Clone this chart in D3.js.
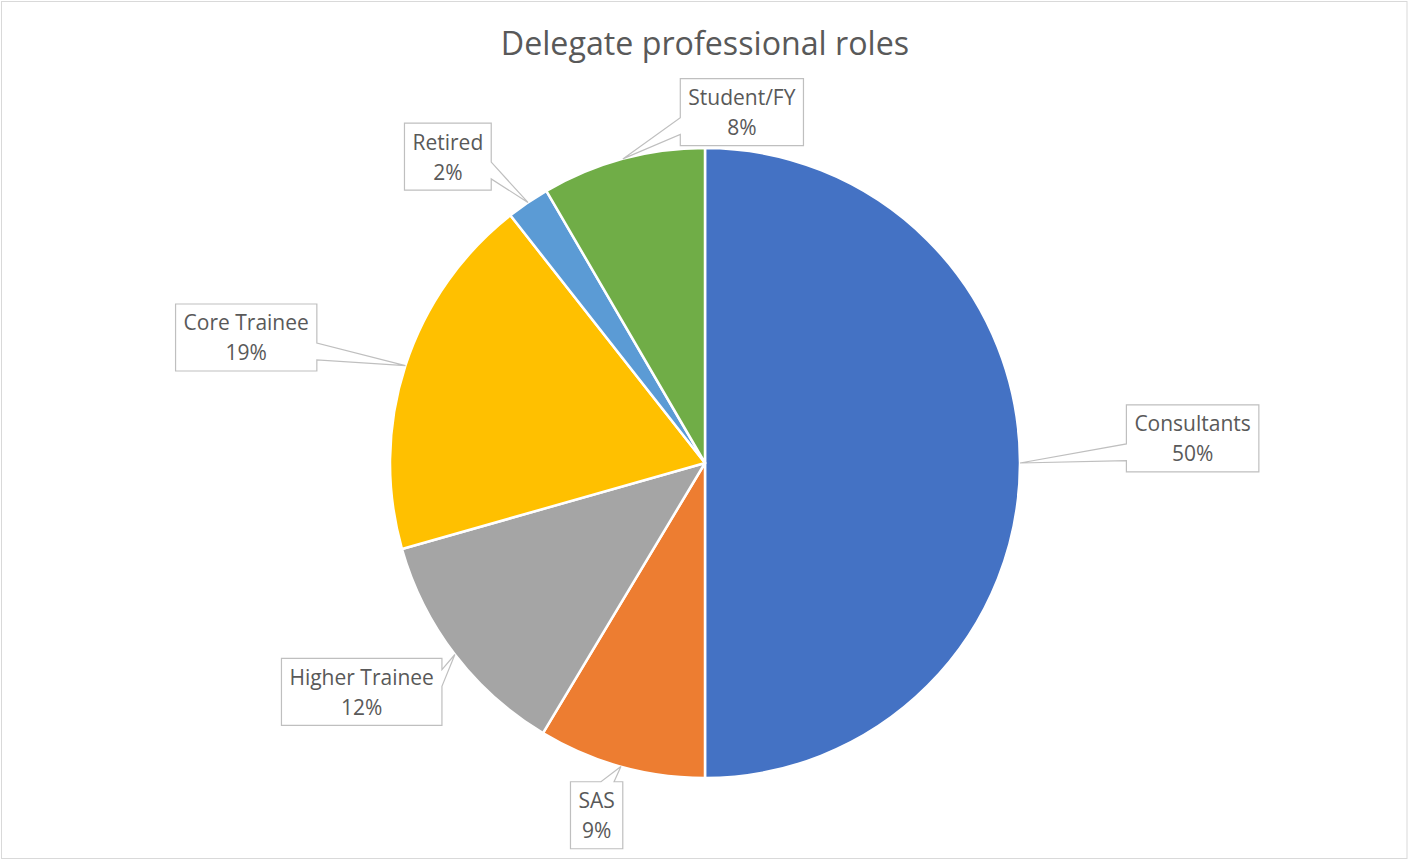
<!DOCTYPE html>
<html><head><meta charset="utf-8">
<script src="https://cdn.jsdelivr.net/npm/d3@7"></script>
<style>body{margin:0;background:#fff;} svg{display:block}</style>
</head><body>
<svg id="c" width="1408" height="860"></svg>
<script>
const categories = ["Consultants", "SAS", "Higher Trainee", "Core Trainee", "Retired", "Student/FY"];
const values = [50.0, 8.6, 12.0, 18.8, 2.2, 8.4];
const colors = ["#4472C4", "#ED7D31", "#A5A5A5", "#FFC000", "#5B9BD5", "#70AD47"];
const title = "Delegate professional roles";
// callout label placement: angle (deg clockwise from 12 o'clock) and distance in radii
const labelAngle = [87.1, 197.1, 236.3, 285.3, 320, 6];
const labelDist = [1.55, 1.17, 1.31, 1.51, 1.27, 1.12];

const W = 1408, H = 860;
const cx = 705, cy = 463, R = 315;
const svg = d3.select("#c");

svg.append("rect").attr("x", 1.5).attr("y", 1.5).attr("width", 1405.5).attr("height", 857)
  .attr("fill", "#fff").attr("stroke", "#D9D9D9").attr("stroke-width", 1);

svg.append("text").attr("x", 705).attr("y", 55).attr("text-anchor", "middle")
  .attr("font-family", "'Open Sans', sans-serif").attr("font-size", 32.2).attr("fill", "#595959")
  .text(title);

const data = categories.map((c, i) => ({ cat: c, value: values[i], color: colors[i], i }));
const total = d3.sum(values);
const pie = d3.pie().sort(null).value(d => d.value).startAngle(0).endAngle(2 * Math.PI);
const arcs = pie(data);
const arc = d3.arc().innerRadius(0).outerRadius(R);

const g = svg.append("g").attr("transform", `translate(${cx},${cy})`);
g.selectAll("path.slice").data(arcs).enter().append("path")
  .attr("class", "slice")
  .attr("d", arc)
  .attr("fill", d => d.data.color)
  .attr("stroke", "#fff").attr("stroke-width", 2.5).attr("stroke-linejoin", "round");

function callout(l, t, w, h, px, py) {
  const r = l + w, b = t + h, hc = l + w / 2, vc = t + h / 2;
  const dxPos = px - hc, dyPos = py - vc;
  const dq = dxPos * h / w;
  const dz = Math.abs(dyPos) - Math.abs(dq);
  const x1 = l + w * (dxPos > 0 ? 7 : 2) / 12, x2 = l + w * (dxPos > 0 ? 10 : 5) / 12;
  const y1 = t + h * (dyPos > 0 ? 7 : 2) / 12, y2 = t + h * (dyPos > 0 ? 10 : 5) / 12;
  let side;
  if (dz > 0) side = dyPos < 0 ? "top" : "bottom"; else side = dxPos < 0 ? "left" : "right";
  let p = `M${l},${t}`;
  if (side === "top") p += `L${x1},${t}L${px},${py}L${x2},${t}`;
  p += `L${r},${t}`;
  if (side === "right") p += `L${r},${y1}L${px},${py}L${r},${y2}`;
  p += `L${r},${b}`;
  if (side === "bottom") p += `L${x2},${b}L${px},${py}L${x1},${b}`;
  p += `L${l},${b}`;
  if (side === "left") p += `L${l},${y2}L${px},${py}L${l},${y1}`;
  return p + "Z";
}

const fontFam = "'Open Sans', sans-serif";
const fs = 21;
const lg = svg.append("g");
arcs.forEach((a, i) => {
  const mid = (a.startAngle + a.endAngle) / 2;
  const tipX = cx + R * Math.sin(mid), tipY = cy - R * Math.cos(mid);
  const la = labelAngle[i] * Math.PI / 180;
  const lx = cx + labelDist[i] * R * Math.sin(la), ly = cy - labelDist[i] * R * Math.cos(la);
  const grp = lg.append("g");
  const path = grp.append("path");
  const t1 = grp.append("text").attr("x", lx).attr("y", ly - 7).attr("text-anchor", "middle")
    .attr("font-family", fontFam).attr("font-size", fs).attr("fill", "#595959").text(a.data.cat);
  const t2 = grp.append("text").attr("x", lx).attr("y", ly + 23).attr("text-anchor", "middle")
    .attr("font-family", fontFam).attr("font-size", fs).attr("fill", "#595959")
    .text(Math.round(a.data.value / total * 100) + "%");
  const tw = Math.max(t1.node().getComputedTextLength(), t2.node().getComputedTextLength());
  const bw = tw + 16, bh = 67;
  path.attr("d", callout(lx - bw / 2, ly - bh / 2, bw, bh, tipX, tipY))
    .attr("fill", "#fff").attr("stroke", "#BFBFBF").attr("stroke-width", 1.2);
});
</script>
</body></html>
